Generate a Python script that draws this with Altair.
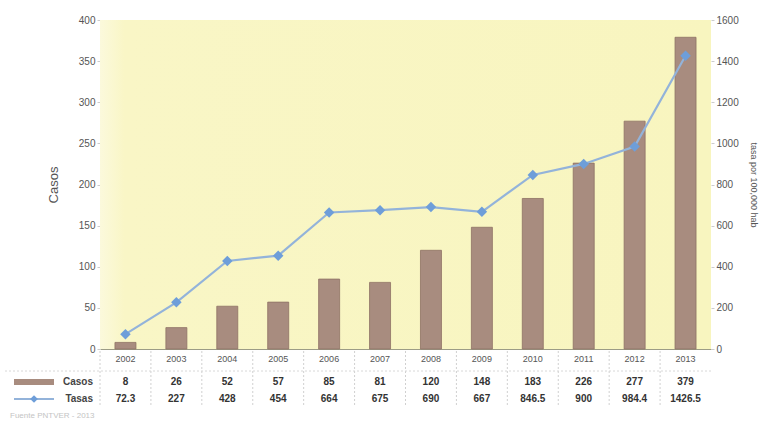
import altair as alt
import pandas as pd

years = ["2002", "2003", "2004", "2005", "2006", "2007", "2008", "2009", "2010", "2011", "2012", "2013"]
casos = [8, 26, 52, 57, 85, 81, 120, 148, 183, 226, 277, 379]
tasas = [72.3, 227, 428, 454, 664, 675, 690, 667, 846.5, 900, 984.4, 1426.5]
casos_lbl = ["8", "26", "52", "57", "85", "81", "120", "148", "183", "226", "277", "379"]
tasas_lbl = ["72.3", "227", "428", "454", "664", "675", "690", "667", "846.5", "900", "984.4", "1426.5"]

df = pd.DataFrame({"year": years, "casos": casos, "tasas": tasas,
                   "casos_lbl": casos_lbl, "tasas_lbl": tasas_lbl})

W, H = 611, 329
FONT = "Liberation Sans"

xenc = alt.X("year:N", sort=years, title=None,
             scale=alt.Scale(paddingInner=0, paddingOuter=0),
             axis=alt.Axis(labelFontSize=9, labelColor="#555", ticks=False,
                           domainColor="#9c9c86", domainWidth=1.2, labelPadding=5,
                           labelAngle=0, labelFont=FONT))

base = alt.Chart(df)

bg = alt.Chart(pd.DataFrame({"a": [0]})).mark_rect(
    color=alt.Gradient(gradient="linear",
                       stops=[alt.GradientStop(color="#FBF9DC", offset=0),
                              alt.GradientStop(color="#F9F6C6", offset=0.04),
                              alt.GradientStop(color="#F8F5BF", offset=1)],
                       x1=0, x2=1, y1=0, y2=0)
).encode(x=alt.value(0), x2=alt.value(W), y=alt.value(0), y2=alt.value(H))

bars = base.mark_bar(size=21, color="#A88C7F", stroke="#8E7165", strokeWidth=0.8).encode(
    x=xenc,
    y=alt.Y("casos:Q", title="Casos",
            scale=alt.Scale(domain=[0, 400]),
            axis=alt.Axis(orient="left", values=list(range(0, 401, 50)), grid=False,
                          domain=False, tickSize=3, tickColor="#cccccc", format="d",
                          labelFontSize=10, labelColor="#555", labelFont=FONT,
                          titleFontSize=13, titleColor="#555", titleFont=FONT,
                          titleFontWeight="normal", titlePadding=18))
)

line = base.mark_line(color="#93B3DA", strokeWidth=2.2).encode(
    x=xenc,
    y=alt.Y("tasas:Q", title="tasa por 100,000 hab",
            scale=alt.Scale(domain=[0, 1600]),
            axis=alt.Axis(orient="right", values=list(range(0, 1601, 200)), grid=False,
                          domain=False, tickSize=3, tickColor="#cccccc", format="d",
                          labelFontSize=10, labelColor="#555", labelFont=FONT,
                          titleFontSize=9, titleColor="#555", titleFont=FONT,
                          titleFontWeight="normal", titleAngle=90, titlePadding=10))
)
pts = base.mark_point(shape="diamond", filled=True, size=110, color="#6E9ED9", opacity=1).encode(
    x=xenc, y=alt.Y("tasas:Q", scale=alt.Scale(domain=[0, 1600]))
)

top_layer = alt.layer(bars, alt.layer(line, pts)).resolve_scale(y="independent")

sep = base.mark_rule(color="#d0d0d0", strokeDash=[2, 2], strokeWidth=1).encode(
    x=alt.X("year:N", sort=years, bandPosition=0),
    y=alt.value(H + 2), y2=alt.value(H + 57)
)
hline = alt.Chart(pd.DataFrame({"a": [0]})).mark_rule(color="#d8d8d8", strokeDash=[2, 2]).encode(
    x=alt.value(-95), x2=alt.value(W), y=alt.value(H + 22)
)
t_casos = base.mark_text(fontSize=10, color="#333", font=FONT, fontWeight="bold").encode(
    x=alt.X("year:N", sort=years), y=alt.value(H + 33), text="casos_lbl:N")
t_tasas = base.mark_text(fontSize=10, color="#333", font=FONT, fontWeight="bold").encode(
    x=alt.X("year:N", sort=years), y=alt.value(H + 50), text="tasas_lbl:N")

lab_df = pd.DataFrame({"lab": ["Casos", "Tasas"], "yy": [H + 33, H + 50]})
row_lab = alt.Chart(lab_df).mark_text(fontSize=10, color="#444", font=FONT, fontWeight="bold",
                                       align="right").encode(
    x=alt.value(-7), y=alt.Y("yy:Q", scale=None), text="lab:N")

sym_bar = alt.Chart(pd.DataFrame({"a": [0]})).mark_rect(color="#A88C7F").encode(
    x=alt.value(-86), x2=alt.value(-46), y=alt.value(H + 30), y2=alt.value(H + 36))
sym_line = alt.Chart(pd.DataFrame({"a": [0]})).mark_rule(color="#93B3DA", strokeWidth=2).encode(
    x=alt.value(-86), x2=alt.value(-46), y=alt.value(H + 50))
sym_pt = alt.Chart(pd.DataFrame({"a": [0]})).mark_point(shape="diamond", filled=True, size=60,
                                                       color="#6E9ED9", opacity=1).encode(
    x=alt.value(-66), y=alt.value(H + 50))
footer = alt.Chart(pd.DataFrame({"t": ["Fuente PNTVER - 2013"]})).mark_text(
    fontSize=8, color="#c4c4c4", font=FONT, align="left").encode(
    x=alt.value(-90), y=alt.value(H + 67), text="t:N")

chart = alt.layer(bg, top_layer, sep, hline, t_casos, t_tasas, row_lab, sym_bar, sym_line, sym_pt,
                  footer).resolve_scale(y="independent").properties(
    width=W, height=H,
    autosize=alt.AutoSizeParams(type="none"),
    padding={"left": 100, "top": 20, "right": 54, "bottom": 73},
    background="white"
).configure_view(stroke=None)

chart.save("out.html", embed_options={"renderer": "svg", "actions": False})
